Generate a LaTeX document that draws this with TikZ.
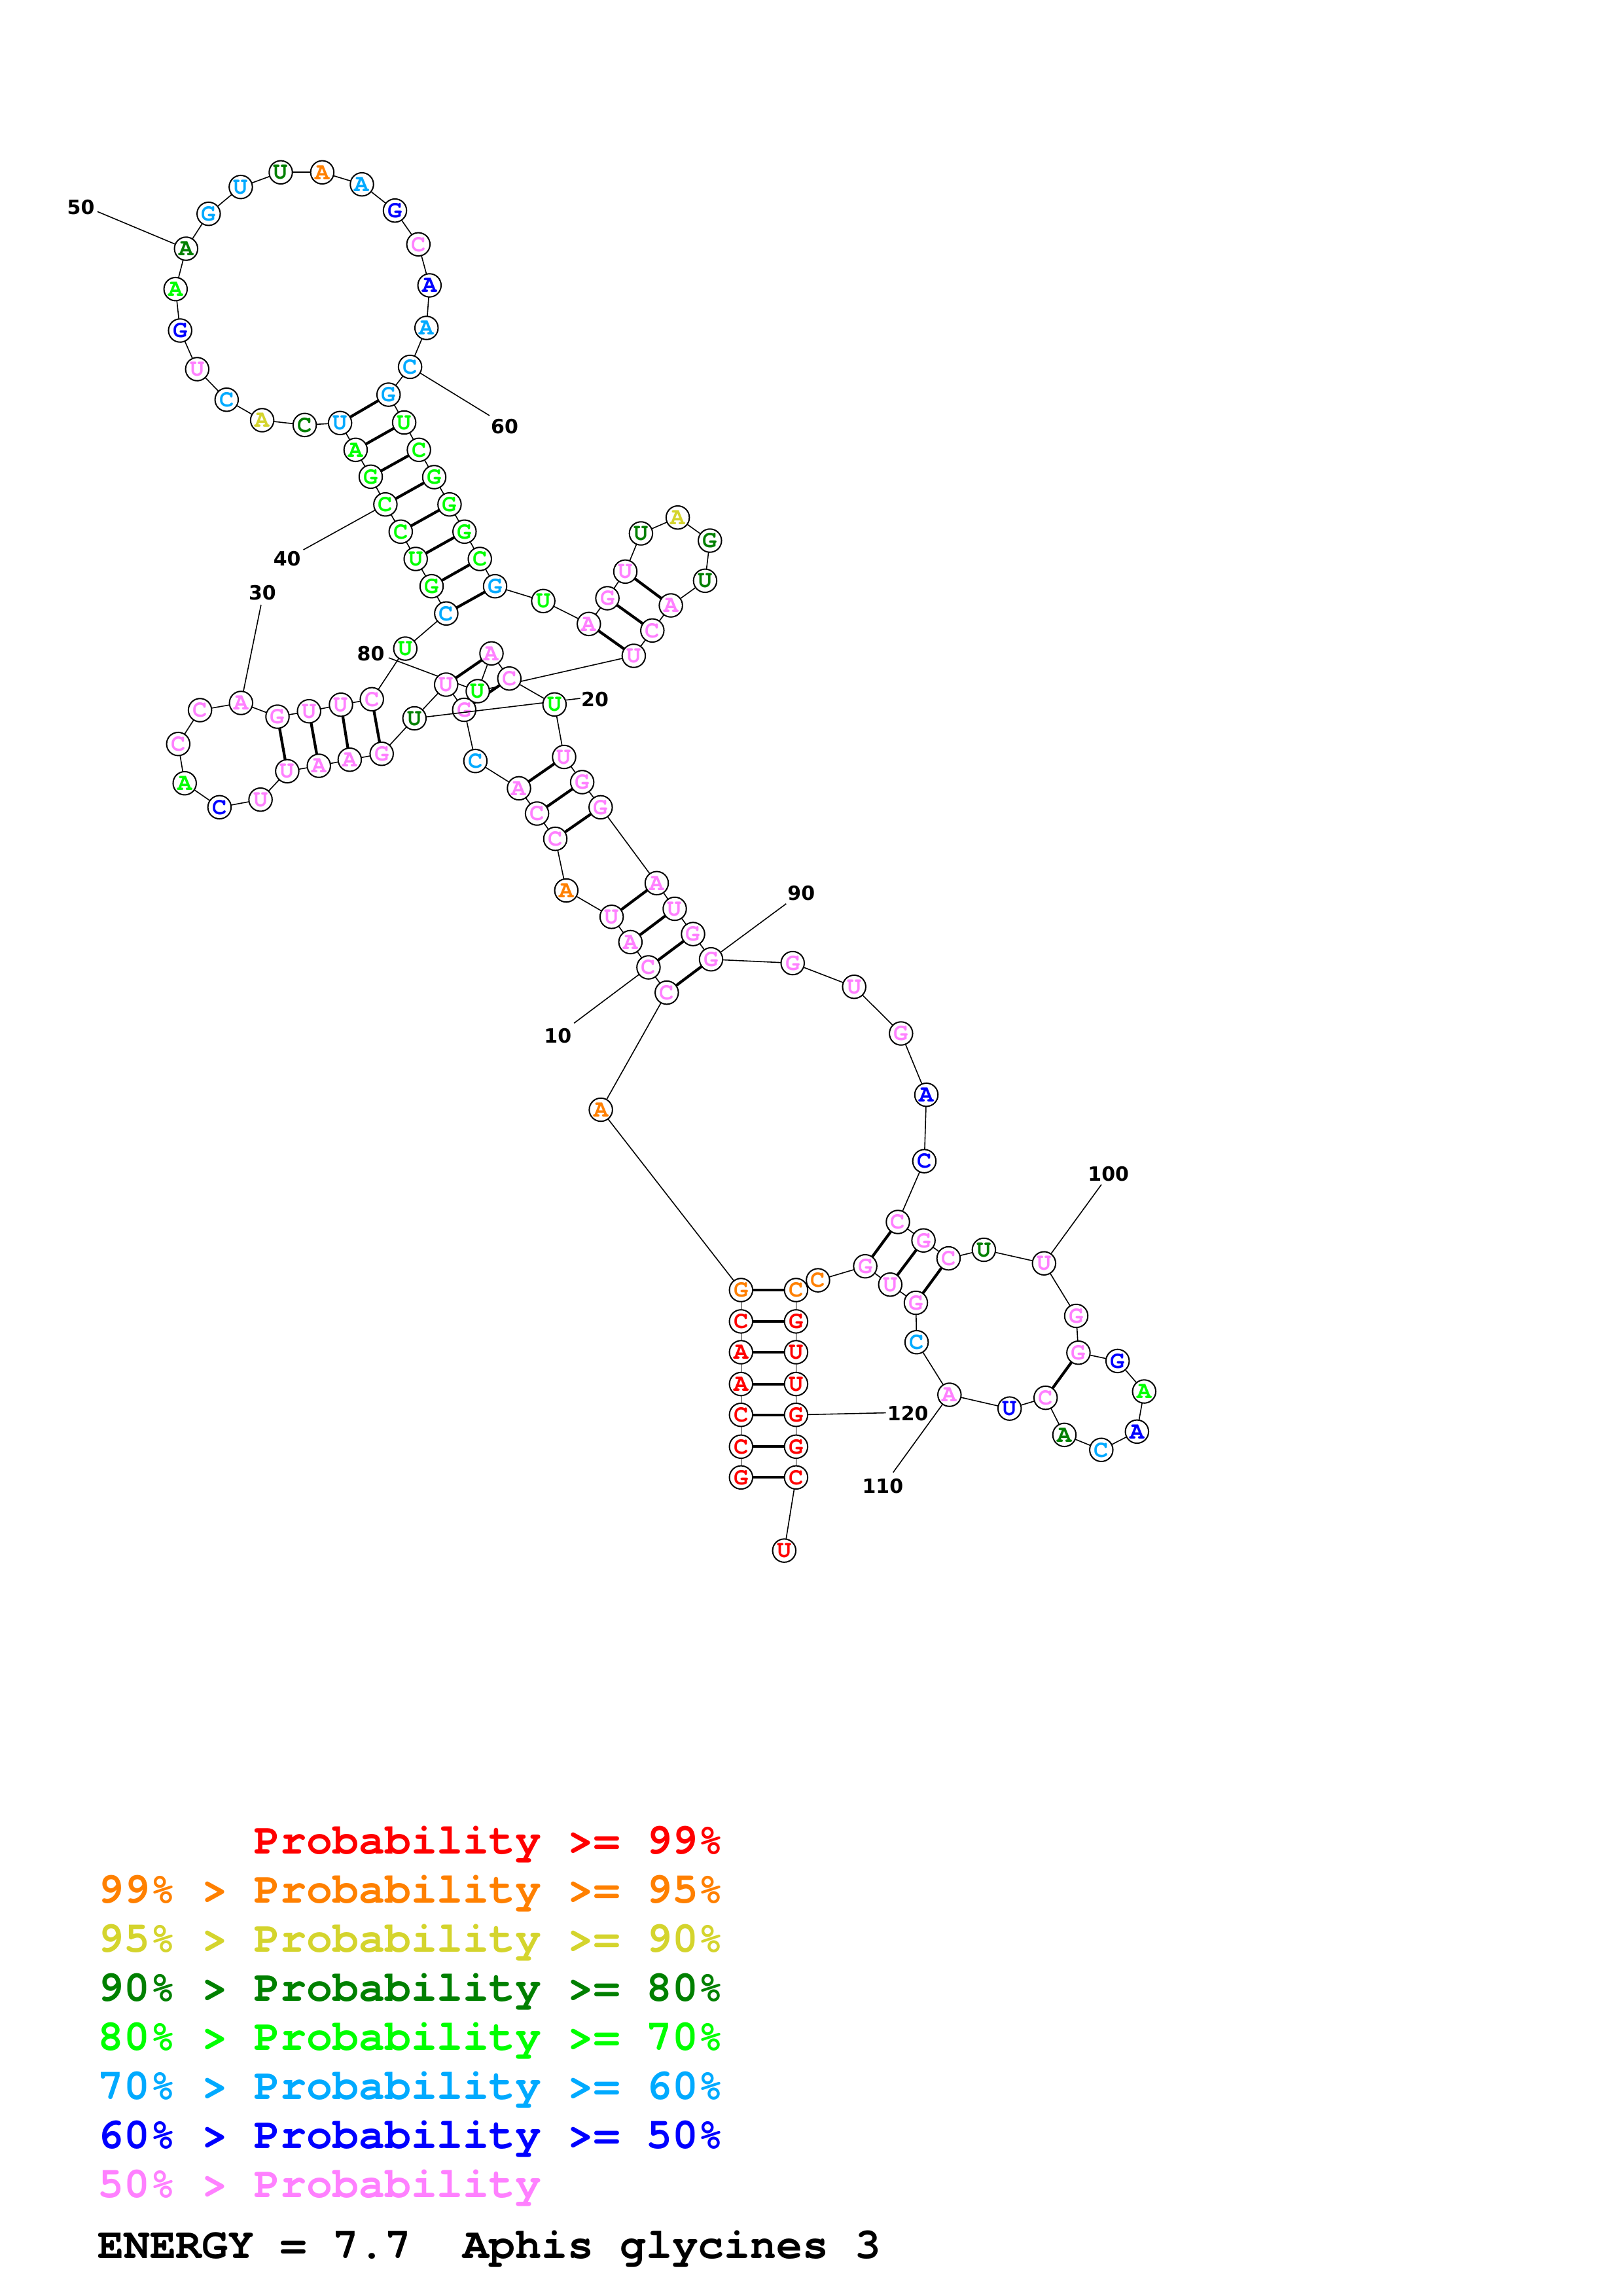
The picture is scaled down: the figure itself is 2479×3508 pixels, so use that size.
\documentclass[tikz,border=0pt]{standalone}
\usepackage{fontspec}
\newfontfamily\cour{TeX Gyre Cursor}
\newfontfamily\labf{DejaVu Sans}
\definecolor{cR}{RGB}{255,0,0}
\definecolor{cO}{RGB}{255,128,0}
\definecolor{cY}{RGB}{212,212,45}
\definecolor{cDG}{RGB}{0,128,0}
\definecolor{cLG}{RGB}{0,255,0}
\definecolor{cLB}{RGB}{0,170,255}
\definecolor{cB}{RGB}{0,0,255}
\definecolor{cP}{RGB}{255,128,255}
\pgfdeclarelayer{bg}
\pgfdeclarelayer{low}
\pgfdeclarelayer{mid}
\pgfsetlayers{bg,low,mid,main}
\begin{document}
\begin{tikzpicture}[x=1pt,y=-1pt,
  nt/.style={circle, draw=black, line width=2pt, fill=white, minimum size=35.5pt, inner sep=0pt,
    font={\cour\bfseries\fontsize{37}{37}\selectfont}},
  bb/.style={line width=1.6pt, black},
  bp/.style={line width=4.2pt, black},
  numlab/.style={font={\labf\bfseries\fontsize{30}{30}\selectfont}, inner sep=1pt, fill=white},
  leg/.style={anchor=base west, inner sep=0pt, font={\cour\bfseries\fontsize{66.5}{66.5}\selectfont}}]
\useasboundingbox (0,0) rectangle (2479,3508);
\begin{pgfonlayer}{bg}
\fill[white] (0,0) rectangle (2479,3508);
\end{pgfonlayer}
% nucleotides
\foreach \i/\x/\y/\lt/\cl in {
1/1132.3/2257.3/G/cR, 2/1132.3/2210.3/C/cR, 3/1132.3/2161.7/C/cR, 4/1132.3/2114.6/A/cR,
5/1132.3/2066.0/A/cR, 6/1132.3/2018.9/C/cR, 7/1132.3/1971.0/G/cO, 8/918.1/1695.5/A/cO,
9/1018.8/1516.6/C/cP, 10/990.9/1478.0/C/cP, 11/963.3/1439.4/A/cP, 12/934.6/1400.8/U/cP,
13/865.3/1360.5/A/cO, 14/848.5/1281.6/C/cP, 15/820.6/1243.0/C/cP, 16/793.0/1204.4/A/cP,
17/726.4/1162.7/C/cLB, 19/681.7/1046.0/U/cP, 20/633.3/1097.5/U/cDG,
21/583.2/1151.7/G/cP, 22/534.4/1160.7/A/cP, 23/487.2/1170.0/A/cP, 24/438.9/1178.3/U/cP,
25/398.1/1221.7/U/cP, 26/335.4/1233.3/C/cB, 27/282.2/1196.7/A/cLG, 28/272.3/1136.7/C/cP,
29/305.6/1085.0/C/cP, 30/368.3/1074.0/A/cP, 31/424.0/1095.0/G/cP, 32/472.2/1086.7/U/cP,
33/521.0/1076.7/U/cP, 34/568.2/1068.3/C/cP, 35/619.3/991.0/U/cLG, 36/681.9/937.3/C/cLB,
37/659.5/895.7/G/cLG, 38/635.2/854.0/U/cLG, 39/612.3/812.3/C/cLG, 40/588.9/770.7/C/cLG,
41/566.5/728.3/G/cLG, 42/543.4/687.3/A/cLG, 43/519.6/646.3/U/cLB, 44/465.6/649.3/C/cDG,
45/400.6/642.0/A/cY, 46/346.3/610.7/C/cLB, 47/301.3/564.0/U/cP, 48/275.2/505.0/G/cB,
49/268.3/441.7/A/cLG, 50/284.3/380.0/A/cDG, 51/318.8/326.7/G/cLB, 52/367.9/285.7/U/cLB,
53/429.0/263.3/U/cDG, 54/492.4/263.3/A/cO, 55/553.0/281.7/A/cLB, 56/603.5/321.7/G/cB,
57/639.3/373.3/C/cP, 58/656.3/436.0/A/cB, 59/651.7/501.0/A/cLB, 60/626.6/560.5/C/cLB,
61/593.7/603.0/G/cLB, 62/617.6/645.5/U/cLG, 63/640.1/687.3/C/cLG, 64/663.5/729.0/G/cLG,
65/686.9/770.7/G/cLG, 66/709.8/812.3/G/cLG, 67/733.2/854.0/C/cLG, 68/756.5/895.7/G/cLB,
69/830.1/918.3/U/cLG, 70/899.8/953.3/A/cP, 71/928.1/914.0/G/cP, 72/955.5/873.3/U/cP,
73/979.4/815.0/U/cDG, 74/1035.6/790.7/A/cY, 75/1084.8/826.0/G/cDG, 76/1077.4/887.3/U/cDG,
77/1025.1/925.0/A/cP, 78/996.8/963.3/C/cP, 79/968.4/1002.0/U/cP, 80/730.0/1056.0/U/cLG,
81/751.0/998.3/A/cP, 82/778.3/1036.7/C/cP, 83/847.3/1076.3/U/cLG, 84/862.0/1156.5/U/cP,
85/889.6/1195.0/G/cP, 86/917.8/1233.4/G/cP, 87/1003.5/1349.3/A/cP, 88/1031.0/1388.5/U/cP,
89/1059.0/1427.1/G/cP, 90/1086.5/1465.7/G/cP, 91/1211.2/1471.5/G/cP, 92/1305.2/1507.7/U/cP,
93/1376.8/1579.0/G/cP, 94/1415.5/1672.7/A/cB, 95/1412.4/1774.1/C/cB, 96/1372.0/1867.0/C/cP,
97/1411.1/1895.2/G/cP, 98/1449.4/1922.6/C/cP, 99/1503.4/1909.5/U/cDG, 100/1595.3/1930.2/U/cP,
101/1644.5/2010.5/G/cP, 102/1647.9/2066.7/G/cP, 103/1707.7/2079.4/G/cB, 104/1748.3/2126.0/A/cLG,
105/1737.3/2187.3/A/cB, 106/1682.8/2215.2/C/cLB, 107/1626.4/2192.3/A/cDG, 108/1597.7/2135.6/C/cP,
109/1542.7/2152.1/U/cB, 110/1450.8/2131.0/A/cP, 111/1400.6/2050.7/C/cLB, 112/1399.5/1990.5/G/cP,
113/1360.3/1962.7/U/cP, 114/1322.1/1934.7/G/cP, 115/1249.9/1956.1/C/cO, 116/1216.4/1971.0/C/cO,
117/1216.4/2018.9/G/cR, 118/1216.4/2066.0/U/cR, 119/1216.4/2114.6/U/cR, 120/1216.4/2161.7/G/cR,
121/1216.4/2210.3/G/cR, 122/1216.4/2257.3/C/cR, 123/1198.3/2369.1/U/cR}
{\node[nt, text=\cl] (n\i) at (\x,\y) {\lt};}
\begin{pgfonlayer}{low}
\node[nt, text=cP] (n18) at (709.3,1084.5) {G};
\end{pgfonlayer}
% tick ends
\coordinate (t10) at (877.2,1563.2);
\coordinate (t20) at (886.6,1067.0);
\coordinate (t30) at (398.9,924.0);
\coordinate (t40) at (463.6,840.0);
\coordinate (t50) at (148.9,323.3);
\coordinate (t60) at (748.0,635.0);
\coordinate (t80) at (593.9,1005.0);
\coordinate (t90) at (1201.3,1380.8);
\coordinate (t100) at (1683.0,1809.8);
\coordinate (t110) at (1364.7,2249.7);
\coordinate (t120) at (1353.7,2158.6);
\begin{pgfonlayer}{bg}
\foreach \i in {1,...,122} {\pgfmathtruncatemacro\j{\i+1}\draw[bb] (n\i.center) -- (n\j.center);}
\foreach \pa/\pb in {1/122,2/121,3/120,4/119,5/118,6/117,7/116,9/90,10/89,11/88,12/87,
  14/86,15/85,16/84,18/82,19/81,21/34,22/33,23/32,24/31,36/68,37/67,38/66,39/65,40/64,
  41/63,42/62,43/61,70/79,71/78,72/77,96/114,97/113,98/112,102/108}
  {\draw[bp] (n\pa.center) -- (n\pb.center);}
\foreach \k in {10,30,40,50,60,80,90,100,110,120} {\draw[bb] (n\k.center) -- (t\k);}
\end{pgfonlayer}
\begin{pgfonlayer}{mid}
\draw[bb] (n20.center) -- (t20);
\end{pgfonlayer}
% number labels
\node[numlab] (l10) at (852.3,1582.2) {10};
\node[numlab] (l20) at (909.0,1068.3) {20};
\node[numlab] (l30) at (400.9,906.0) {30};
\node[numlab] (l40) at (438.7,854.0) {40};
\node[numlab] (l50) at (123.6,316.7) {50};
\node[numlab] (l60) at (771.0,651.7) {60};
\node[numlab] (l80) at (566.5,998.3) {80};
\node[numlab] (l90) at (1224.3,1364.7) {90};
\node[numlab] (l100) at (1693.7,1793.3) {100};
\node[numlab] (l110) at (1348.9,2270.7) {110};
\node[numlab] (l120) at (1387.2,2159.7) {120};
% legend
\node[leg, text=cR] (g1) at (149,2832.7) {\phantom{99\% > }Probability >= 99\%};
\node[leg, text=cO] (g2) at (149,2907.6) {99\% > Probability >= 95\%};
\node[leg, text=cY] (g3) at (149,2982.5) {95\% > Probability >= 90\%};
\node[leg, text=cDG] (g4) at (149,3057.4) {90\% > Probability >= 80\%};
\node[leg, text=cLG] (g5) at (149,3132.3) {80\% > Probability >= 70\%};
\node[leg, text=cLB] (g6) at (149,3207.2) {70\% > Probability >= 60\%};
\node[leg, text=cB] (g7) at (149,3282.1) {60\% > Probability >= 50\%};
\node[leg, text=cP] (g8) at (149,3357.0) {50\% > Probability};
\node[leg, text=black] (g9) at (149,3450.7) {ENERGY = 7.7\ \ Aphis glycines 3};
\end{tikzpicture}
\end{document}
